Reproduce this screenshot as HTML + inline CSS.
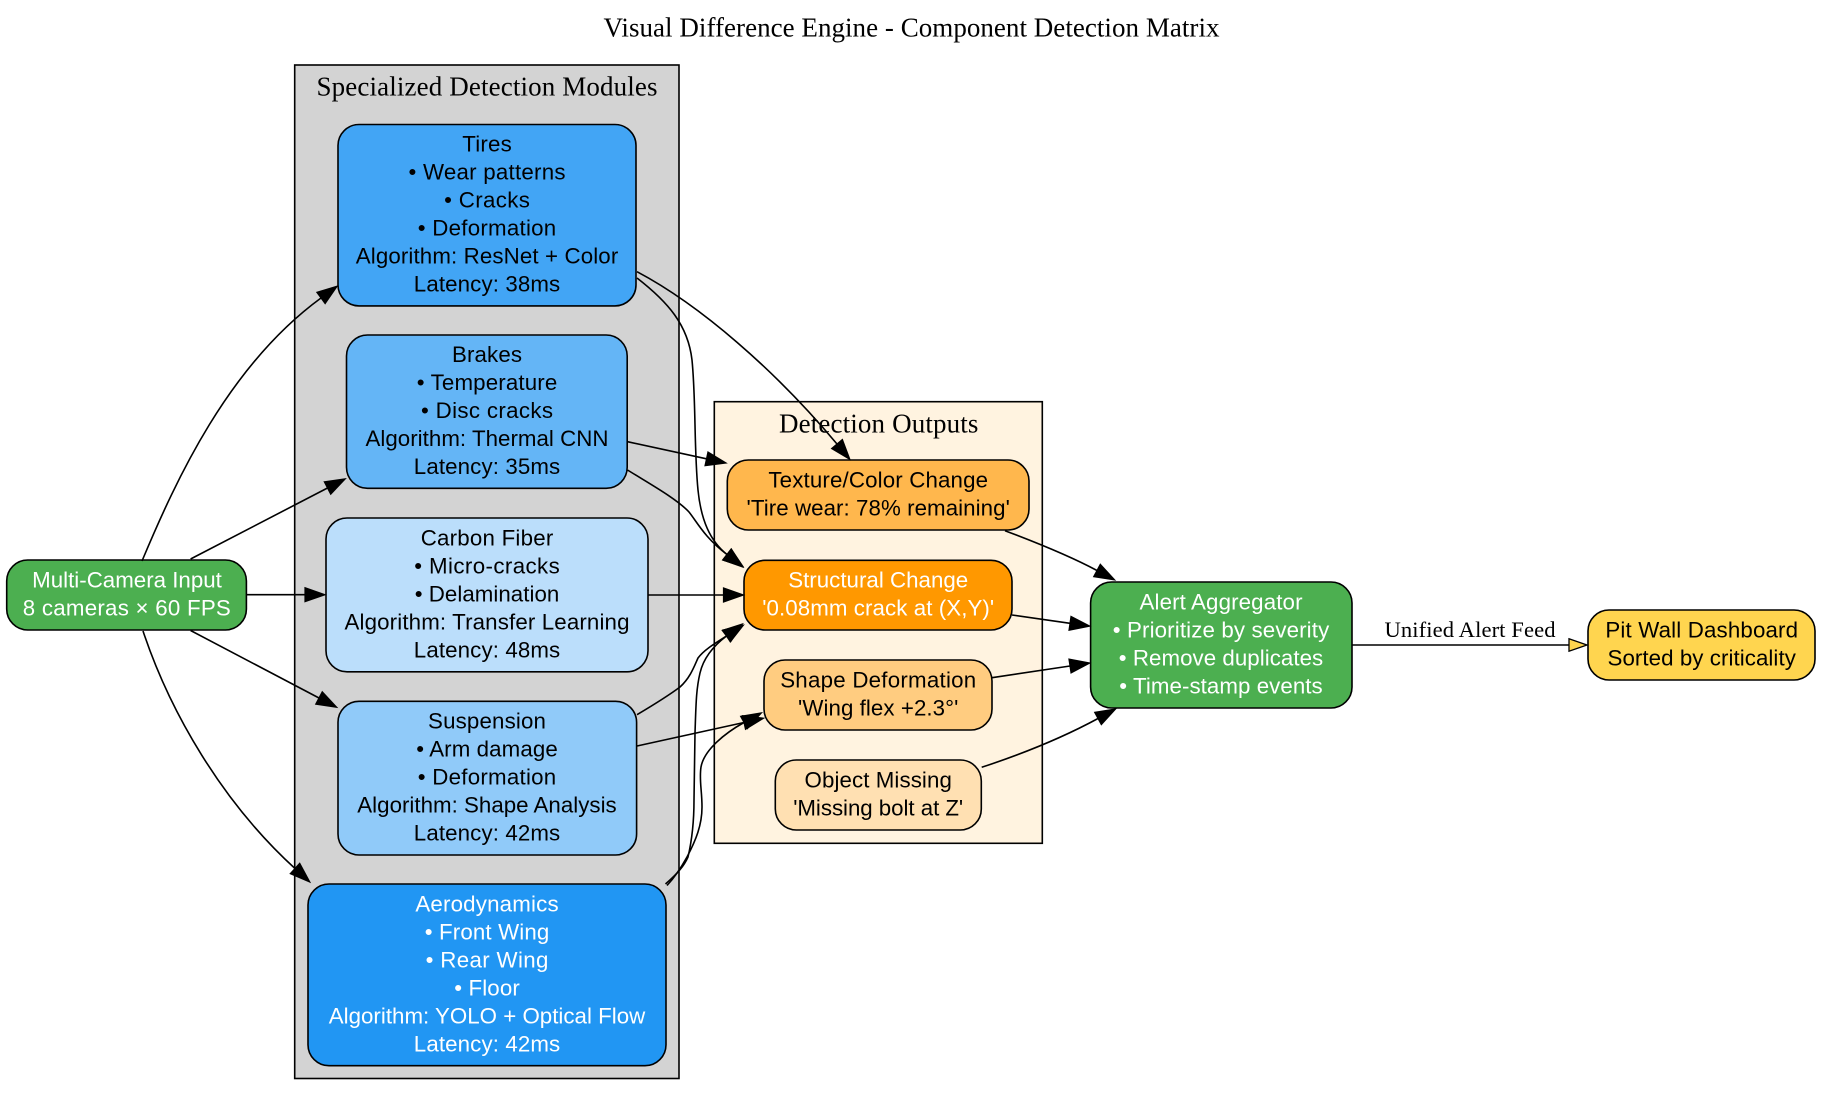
<!DOCTYPE html>
<html>
<head>
<meta charset="utf-8">
<title>Visual Difference Engine - Component Detection Matrix</title>
<style>
html,body{margin:0;padding:0;background:#fff;width:1821px;height:1098px;overflow:hidden}
svg{display:block;position:absolute;left:0;top:0}
text{text-anchor:middle}
.n{font-family:"Liberation Sans",Arial,sans-serif;font-size:22.3px;fill:#000}
.w{fill:#fff}
.s{font-family:"Liberation Serif","Times New Roman",serif;font-size:27px;fill:#000}
.l{font-family:"Liberation Serif","Times New Roman",serif;font-size:22.6px;fill:#000}
.c{stroke:#000;stroke-width:1.6}
.b{stroke:#000;stroke-width:1.6}
.e{fill:none;stroke:#000;stroke-width:1.6}
</style>
</head>
<body>
<svg width="1821" height="1098" viewBox="0 0 1821 1098" xmlns="http://www.w3.org/2000/svg">
<defs>
<marker id="a" markerUnits="userSpaceOnUse" markerWidth="26" markerHeight="20" refX="1" refY="10" orient="auto" overflow="visible">
<path d="M1,3 L21,10 L1,17 Z" fill="#000" stroke="#000" stroke-width="1.2"/>
</marker>
<marker id="y" markerUnits="userSpaceOnUse" markerWidth="24" markerHeight="18" refX="2" refY="9" orient="auto" overflow="visible">
<path d="M2,2.8 L20,9 L2,15.2 Z" fill="#FFD54F" stroke="#000" stroke-width="1.3"/>
</marker>
</defs>

<text class="s" x="911.5" y="36.7" textLength="616">Visual Difference Engine - Component Detection Matrix</text>

<rect class="c" x="294.7" y="65" width="384.3" height="1013.5" fill="#D3D3D3"/>
<text class="s" x="487" y="95.5" textLength="341">Specialized Detection Modules</text>
<rect class="c" x="714.3" y="401.7" width="328" height="441.6" fill="#FFF3E0"/>
<text class="s" x="878.7" y="432.7" textLength="199.5">Detection Outputs</text>

<!-- nodes -->
<rect class="b" x="338" y="124.5" width="298" height="181.4" rx="21" fill="#42A5F5"/>
<text class="n" x="487" y="151.5" textLength="49.6">Tires</text>
<text class="n" x="487" y="179.5" textLength="157">• Wear patterns</text>
<text class="n" x="487" y="207.5" textLength="85.7">• Cracks</text>
<text class="n" x="487" y="235.5" textLength="138.4">• Deformation</text>
<text class="n" x="487" y="263.5" textLength="262.5">Algorithm: ResNet + Color</text>
<text class="n" x="487" y="291.5" textLength="146.4">Latency: 38ms</text>

<rect class="b" x="346.5" y="335" width="280.7" height="153.3" rx="21" fill="#64B5F6"/>
<text class="n" x="487" y="361.9" textLength="70">Brakes</text>
<text class="n" x="487" y="389.9" textLength="140.6">• Temperature</text>
<text class="n" x="487" y="417.9" textLength="132">• Disc cracks</text>
<text class="n" x="487" y="445.9" textLength="243">Algorithm: Thermal CNN</text>
<text class="n" x="487" y="473.9" textLength="146.4">Latency: 35ms</text>

<rect class="b" x="326" y="518" width="322" height="153.8" rx="21" fill="#BBDEFB"/>
<text class="n" x="487" y="545.3" textLength="132.6">Carbon Fiber</text>
<text class="n" x="487" y="573.3" textLength="145.5">• Micro-cracks</text>
<text class="n" x="487" y="601.3" textLength="144.6">• Delamination</text>
<text class="n" x="487" y="629.3" textLength="285">Algorithm: Transfer Learning</text>
<text class="n" x="487" y="657.3" textLength="146.4">Latency: 48ms</text>

<rect class="b" x="338" y="701.3" width="298.6" height="153.7" rx="21" fill="#90CAF9"/>
<text class="n" x="487" y="728.3" textLength="117.9">Suspension</text>
<text class="n" x="487" y="756.3" textLength="141.5">• Arm damage</text>
<text class="n" x="487" y="784.3" textLength="138.4">• Deformation</text>
<text class="n" x="487" y="812.3" textLength="259.4">Algorithm: Shape Analysis</text>
<text class="n" x="487" y="840.3" textLength="146.4">Latency: 42ms</text>

<rect class="b" x="308" y="884" width="358" height="181.7" rx="21" fill="#2196F3"/>
<text class="n w" x="487" y="911.3" textLength="143.3">Aerodynamics</text>
<text class="n w" x="487" y="939.3" textLength="124.6">• Front Wing</text>
<text class="n w" x="487" y="967.3" textLength="122.8">• Rear Wing</text>
<text class="n w" x="487" y="995.3" textLength="65.6">• Floor</text>
<text class="n w" x="487" y="1023.3" textLength="316.5">Algorithm: YOLO + Optical Flow</text>
<text class="n w" x="487" y="1051.3" textLength="146.4">Latency: 42ms</text>

<rect class="b" x="6.7" y="560" width="239.7" height="70" rx="21" fill="#4CAF50"/>
<text class="n w" x="127" y="587.3" textLength="189.7">Multi-Camera Input</text>
<text class="n w" x="126.8" y="615.3" textLength="208">8 cameras × 60 FPS</text>

<rect class="b" x="727.3" y="460" width="301.7" height="70" rx="21" fill="#FFB74D"/>
<text class="n" x="878.2" y="487.3" textLength="219.7">Texture/Color Change</text>
<text class="n" x="878.2" y="515.3" textLength="263.3">'Tire wear: 78% remaining'</text>

<rect class="b" x="744" y="560.3" width="268" height="69.7" rx="21" fill="#FF9800"/>
<text class="n w" x="878.2" y="587.3" textLength="180">Structural Change</text>
<text class="n w" x="878.2" y="615.3" textLength="232">'0.08mm crack at (X,Y)'</text>

<rect class="b" x="764" y="660" width="228" height="70" rx="21" fill="#FFCC80"/>
<text class="n" x="878.2" y="687.3" textLength="196">Shape Deformation</text>
<text class="n" x="878.2" y="715.3" textLength="160.3">'Wing flex +2.3°'</text>

<rect class="b" x="775.3" y="760" width="206" height="70" rx="21" fill="#FFE0B2"/>
<text class="n" x="878.2" y="787.3" textLength="147.3">Object Missing</text>
<text class="n" x="878.2" y="815.3" textLength="170">'Missing bolt at Z'</text>

<rect class="b" x="1090.6" y="582" width="261.4" height="126" rx="21" fill="#4CAF50"/>
<text class="n w" x="1221" y="609.3" textLength="163">Alert Aggregator</text>
<text class="n w" x="1221" y="637.3" textLength="216.5">• Prioritize by severity</text>
<text class="n w" x="1221" y="665.3" textLength="204.4">• Remove duplicates</text>
<text class="n w" x="1221" y="693.3" textLength="203.4">• Time-stamp events</text>

<rect class="b" x="1588" y="610" width="227" height="70" rx="21" fill="#FFD54F"/>
<text class="n" x="1701.7" y="637.3" textLength="192.7">Pit Wall Dashboard</text>
<text class="n" x="1701.7" y="665.3" textLength="188.3">Sorted by criticality</text>

<!-- edges -->
<g class="e">
<path marker-end="url(#a)" d="M142,561 C176,480 228,366 321,298"/>
<path marker-end="url(#a)" d="M190.6,559 L327.5,488"/>
<path marker-end="url(#a)" d="M246.5,594.7 L305,594.7"/>
<path marker-end="url(#a)" d="M190.6,630.5 L319,698"/>
<path marker-end="url(#a)" d="M143,631 C170,712 222,802 295,868.5"/>

<path marker-end="url(#a)" d="M637,271.7 C700,305 775,370 837,444"/>
<path marker-end="url(#a)" d="M637,278 C668,302 688,325 692,360 C696,400 694,450 698,490 C701,520 710,541 727,554.5"/>
<path marker-end="url(#a)" d="M627.5,441.7 L706.5,458.8"/>
<path marker-end="url(#a)" d="M627.5,470 C650,484 677,499 689,512 C697,522 705,538 727,554.5"/>
<path marker-end="url(#a)" d="M648,595 L723.5,595"/>
<path marker-end="url(#a)" d="M637,714.7 C655,704 668,696 680,687 C690,678 694,667 698,658 C704,650 714,644 726.5,636"/>
<path marker-end="url(#a)" d="M665.5,884 C678,873 684,866 688,857 C692,840 694,820 694,800 L695,733 C696,705 696,690 700,673 C703,660 712,647 726.5,636"/>
<path marker-end="url(#a)" d="M637,746 L744,722.5"/>
<path marker-end="url(#a)" d="M667,885.5 C676,876 682,866 687,857 C696,840 702,825 702,807 C702,790 699,780 701,767 C704,750 725,733 744,722.5"/>

<path marker-end="url(#a)" d="M1005,530.7 C1035,542 1068,555 1097,570.5"/>
<path marker-end="url(#a)" d="M1012,615 L1070,623.3"/>
<path marker-end="url(#a)" d="M992,677.7 L1070,666"/>
<path marker-end="url(#a)" d="M981.7,767.3 C1022,754 1062,738 1098,718.5"/>

<path marker-end="url(#y)" d="M1352,645 L1569,645"/>
</g>
<text class="l" x="1470" y="637" textLength="171">Unified Alert Feed</text>
</svg>
</body>
</html>
